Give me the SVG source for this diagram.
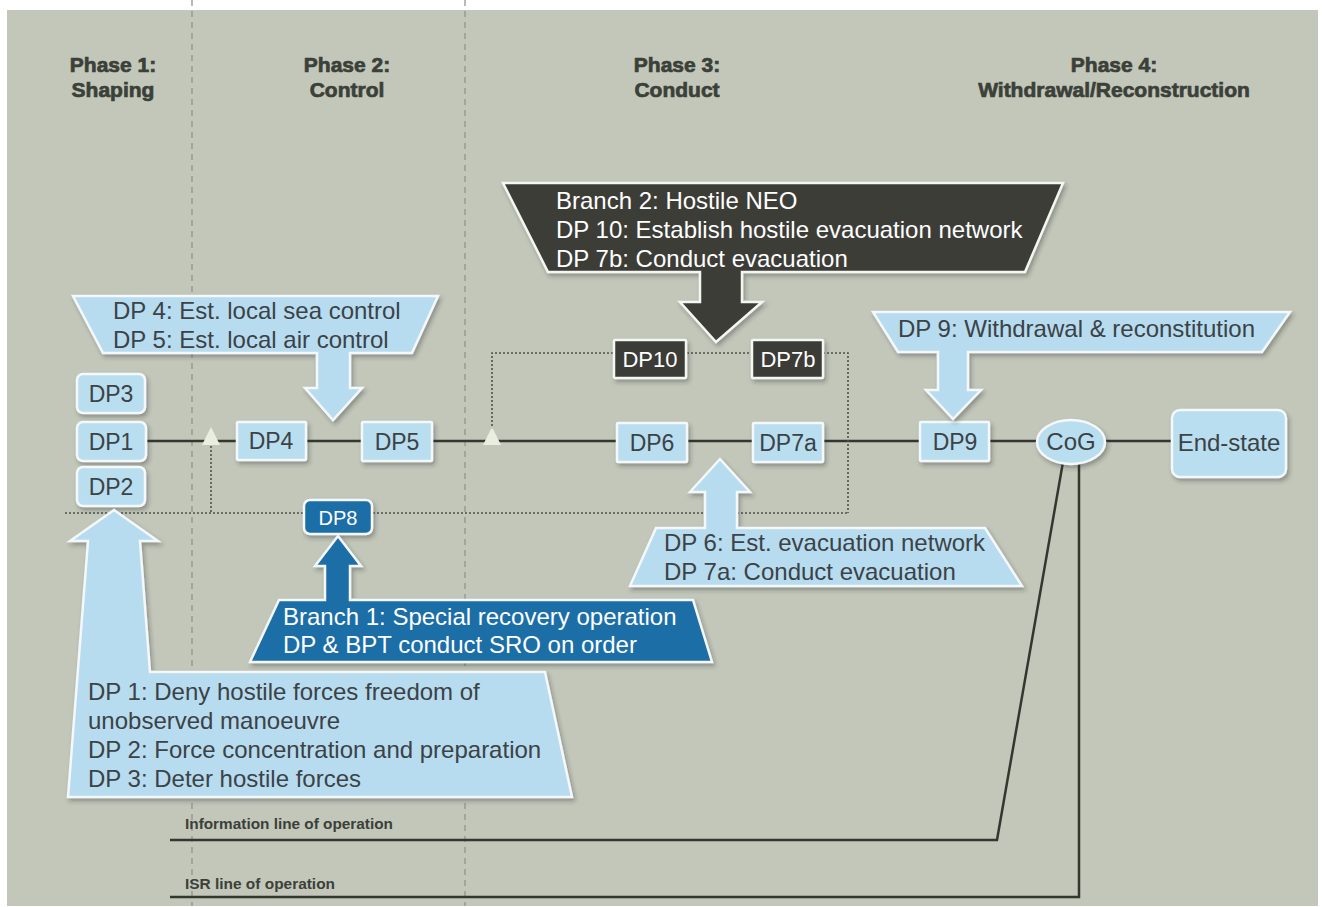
<svg xmlns="http://www.w3.org/2000/svg" width="1322" height="907" viewBox="0 0 1322 907">
  <defs>
    <filter id="shadow" x="-20%" y="-20%" width="140%" height="150%">
      <feDropShadow dx="2" dy="3" stdDeviation="2" flood-color="#2a2e26" flood-opacity="0.35"/>
    </filter>
    <style>
      .phase { font-family: "Liberation Sans", Arial, sans-serif; font-weight: bold; font-size: 21px; fill: #3b4038; stroke: #3b4038; stroke-width: 0.7; text-anchor: middle; }
      .node-light { fill: #b9deef; stroke: #f4f8fa; stroke-width: 2.5; filter: url(#shadow); }
      .node-dark { fill: #3b3a37; stroke: #f4f6f2; stroke-width: 2.5; filter: url(#shadow); }
      .node-blue { fill: #1f6ea7; stroke: #f4f8fa; stroke-width: 2.5; filter: url(#shadow); }
      .lbl { font-family: "Liberation Sans", Arial, sans-serif; font-size: 23px; fill: #3c4246; text-anchor: middle; }
      .lbl-w { font-family: "Liberation Sans", Arial, sans-serif; font-size: 22px; fill: #ffffff; text-anchor: middle; }
      .call-light { fill: #b7dcef; stroke: #f4f8fa; stroke-width: 2.5; filter: url(#shadow); }
      .call-dark { fill: #3d3d39; stroke: #f4f6f2; stroke-width: 2.5; filter: url(#shadow); }
      .call-blue { fill: #1f6ea7; stroke: #f4f8fa; stroke-width: 2.5; filter: url(#shadow); }
      .ctext { font-family: "Liberation Sans", Arial, sans-serif; font-size: 24px; fill: #3c4246; }
      .ctext-w { font-family: "Liberation Sans", Arial, sans-serif; font-size: 24px; fill: #ffffff; }
      .line { fill: none; stroke: #34372f; stroke-width: 2.5; }
      .dotted { fill: none; stroke: #4e5249; stroke-width: 1.6; stroke-dasharray: 2 2; }
      .phase-sep { fill: none; stroke: #8c9187; stroke-width: 1.2; stroke-dasharray: 6 5; }
      .loo { font-family: "Liberation Sans", Arial, sans-serif; font-weight: bold; font-size: 14px; fill: #3b4038; }
      .branch-mark { fill: #e8eee0; stroke: none; }
    </style>
  </defs>

  <!-- page and panel -->
  <rect x="0" y="0" width="1322" height="907" fill="#ffffff"/>
  <rect x="7" y="10" width="1311" height="896" fill="#c2c7ba"/>

  <!-- phase separators -->
  <g id="phase-separators">
    <line class="phase-sep" x1="192" y1="0" x2="192" y2="906"/>
    <line class="phase-sep" x1="465" y1="0" x2="465" y2="906"/>
  </g>

  <!-- phase headings -->
  <g id="phase-headings">
    <text class="phase" x="113" y="72">Phase 1:</text>
    <text class="phase" x="113" y="97">Shaping</text>
    <text class="phase" x="347" y="72">Phase 2:</text>
    <text class="phase" x="347" y="97">Control</text>
    <text class="phase" x="677" y="72">Phase 3:</text>
    <text class="phase" x="677" y="97">Conduct</text>
    <text class="phase" x="1114" y="72">Phase 4:</text>
    <text class="phase" x="1114" y="97">Withdrawal/Reconstruction</text>
  </g>

  <!-- connectors: main line, branches and supporting lines of operation -->
  <g id="connectors">
    <line class="line" x1="146" y1="441" x2="237" y2="441"/>
    <line class="line" x1="306" y1="441" x2="362" y2="441"/>
    <line class="line" x1="432" y1="441" x2="617" y2="441"/>
    <line class="line" x1="687" y1="441" x2="753" y2="441"/>
    <line class="line" x1="823" y1="441" x2="920" y2="441"/>
    <line class="line" x1="989" y1="441" x2="1037" y2="441"/>
    <line class="line" x1="1105" y1="441" x2="1172" y2="441"/>

    <!-- branch 1 (SRO) loop -->
    <polyline class="dotted" points="211,438 211,513"/>
    <line class="dotted" x1="65" y1="513" x2="848" y2="513"/>
    <!-- branch 2 (hostile NEO) loop -->
    <polyline class="dotted" points="492,438 492,353 848,353 848,513"/>

    <polygon class="branch-mark" points="202,445 220,445 211,427"/>
    <polygon class="branch-mark" points="483,445 501,445 492,427"/>

    <!-- information line of operation -->
    <polyline class="line" points="170,840 997,840 1063,462"/>
    <text class="loo" x="185" y="829" textLength="208" lengthAdjust="spacingAndGlyphs">Information line of operation</text>
    <!-- ISR line of operation -->
    <polyline class="line" points="170,897 1079,897 1079,463"/>
    <text class="loo" x="185" y="889" textLength="150" lengthAdjust="spacingAndGlyphs">ISR line of operation</text>
  </g>

  <!-- decisive points -->
  <g id="dp3"><rect class="node-light" x="77" y="374" width="68" height="39" rx="6"/><text class="lbl" x="111" y="402">DP3</text></g>
  <g id="dp1"><rect class="node-light" x="77" y="422" width="69" height="39" rx="6"/><text class="lbl" x="111" y="450">DP1</text></g>
  <g id="dp2"><rect class="node-light" x="77" y="467" width="68" height="39" rx="6"/><text class="lbl" x="111" y="495">DP2</text></g>
  <g id="dp4"><rect class="node-light" x="237" y="422" width="69" height="38" rx="1"/><text class="lbl" x="271" y="449">DP4</text></g>
  <g id="dp5"><rect class="node-light" x="362" y="422" width="70" height="39" rx="1"/><text class="lbl" x="397" y="450">DP5</text></g>
  <g id="dp6"><rect class="node-light" x="617" y="423" width="70" height="39" rx="1"/><text class="lbl" x="652" y="451">DP6</text></g>
  <g id="dp7a"><rect class="node-light" x="753" y="423" width="70" height="39" rx="1"/><text class="lbl" x="788" y="451">DP7a</text></g>
  <g id="dp9"><rect class="node-light" x="920" y="422" width="69" height="39" rx="1"/><text class="lbl" x="955" y="450">DP9</text></g>
  <g id="cog"><ellipse class="node-light" cx="1071" cy="442" rx="34" ry="22"/><text class="lbl" x="1071" y="450" style="font-size:24px">CoG</text></g>
  <g id="end-state"><rect class="node-light" x="1172" y="410" width="114" height="67" rx="8"/><text class="lbl" x="1229" y="451" style="font-size:24px">End-state</text></g>
  <g id="dp10"><rect class="node-dark" x="614" y="340" width="72" height="38" rx="1"/><text class="lbl-w" x="650" y="367">DP10</text></g>
  <g id="dp7b"><rect class="node-dark" x="752" y="340" width="71" height="38" rx="1"/><text class="lbl-w" x="788" y="367">DP7b</text></g>
  <g id="dp8"><rect class="node-blue" x="304" y="500" width="68" height="34" rx="6"/><text class="lbl-w" x="338" y="525" style="font-size:20px">DP8</text></g>

  <!-- callouts -->
  <g id="callout-dp4-dp5">
    <path class="call-light" d="M73,296 L438,296 L412,353 L350,353 L350,388 L362,388 L333,420 L305,388 L317,388 L317,353 L103,353 Z"/>
    <text class="ctext" x="113" y="319">DP 4: Est. local sea control</text>
    <text class="ctext" x="113" y="348">DP 5: Est. local air control</text>
  </g>

  <g id="callout-branch2">
    <path class="call-dark" d="M503,183 L1063,183 L1025,272 L742,272 L742,302 L762,302 L716,342 L680,302 L700,302 L700,272 L548,272 Z"/>
    <text class="ctext-w" x="556" y="209">Branch 2: Hostile NEO</text>
    <text class="ctext-w" x="556" y="238">DP 10: Establish hostile evacuation network</text>
    <text class="ctext-w" x="556" y="267">DP 7b: Conduct evacuation</text>
  </g>

  <g id="callout-dp9">
    <path class="call-light" d="M873,312 L1290,312 L1262,352 L968,352 L968,390 L981,390 L953,419 L926,390 L938,390 L938,352 L898,352 Z"/>
    <text class="ctext" x="898" y="337">DP 9: Withdrawal &amp; reconstitution</text>
  </g>

  <g id="callout-dp6-dp7a">
    <path class="call-light" d="M656,528 L705,528 L705,492 L690,492 L720,459 L750,492 L737,492 L737,528 L985,528 L1022,586 L630,586 Z"/>
    <text class="ctext" x="664" y="551">DP 6: Est. evacuation network</text>
    <text class="ctext" x="664" y="580">DP 7a: Conduct evacuation</text>
  </g>

  <g id="callout-branch1">
    <path class="call-blue" d="M279,600 L325,600 L325,566 L315,566 L338,536 L361,566 L350,566 L350,600 L693,600 L712,662 L250,662 Z"/>
    <text class="ctext-w" x="283" y="625">Branch 1: Special recovery operation</text>
    <text class="ctext-w" x="283" y="653">DP &amp; BPT conduct SRO on order</text>
  </g>

  <g id="callout-dp1-dp3">
    <path class="call-light" d="M88,541 L70,541 L114,510 L158,541 L140,541 L150,672 L545,672 L572,797 L68,797 Z"/>
    <text class="ctext" x="88" y="700">DP 1: Deny hostile forces freedom of</text>
    <text class="ctext" x="88" y="729">unobserved manoeuvre</text>
    <text class="ctext" x="88" y="758">DP 2: Force concentration and preparation</text>
    <text class="ctext" x="88" y="787">DP 3: Deter hostile forces</text>
  </g>
</svg>
